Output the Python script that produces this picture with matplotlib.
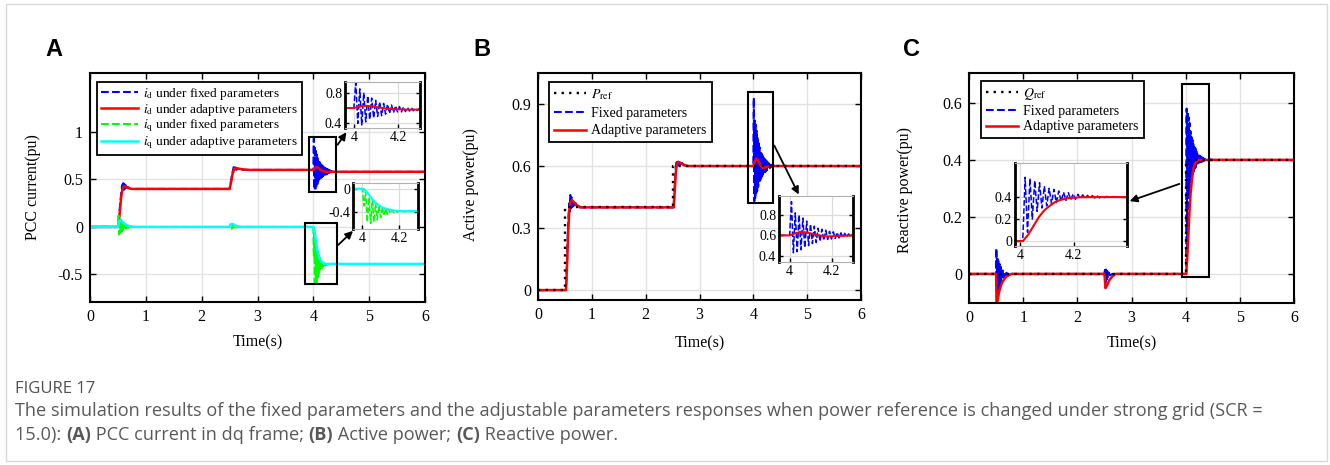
import numpy as np
import matplotlib.pyplot as plt
from matplotlib.patches import Rectangle

plt.rcParams['font.family'] = 'serif'
plt.rcParams['font.serif'] = ['Liberation Serif', 'DejaVu Serif']
plt.rcParams['mathtext.fontset'] = 'stix'
plt.rcParams['axes.unicode_minus'] = False

W, H = 1330, 465

# ---------------- data ----------------
# Panel A : PCC current in dq frame
t_id_adp = [0, 0.50, 0.52, 0.54, 0.56, 0.58, 0.61, 0.64, 0.68, 0.74, 0.82, 2.50, 2.52, 2.55, 2.58,
            2.62, 2.67, 2.75, 2.85, 4.00, 4.02, 4.05, 4.08, 4.11, 4.14, 4.18, 4.24, 4.32, 4.45, 6.00]
id_adp = [0.0, 0.0, 0.08, 0.20, 0.32, 0.40, 0.43, 0.425, 0.41, 0.40, 0.40, 0.40, 0.45, 0.55, 0.61,
          0.62, 0.612, 0.605, 0.60, 0.60, 0.615, 0.63, 0.625, 0.61, 0.595, 0.585, 0.58, 0.58, 0.58, 0.58]

t_id_fix = [0, 0.50, 0.52, 0.54, 0.56, 0.575, 0.585, 0.595, 0.605, 0.615, 0.625, 0.635, 0.645, 0.655,
            0.665, 0.68, 0.70, 0.74, 0.82, 2.50, 2.52, 2.55, 2.575, 2.59, 2.605, 2.62, 2.64, 2.67, 2.75,
            2.85, 4.000, 4.009, 4.018, 4.027, 4.036, 4.045, 4.054, 4.063, 4.072, 4.081, 4.090, 4.099,
            4.108, 4.117, 4.126, 4.135, 4.144, 4.153, 4.162, 4.171, 4.180, 4.189, 4.198, 4.207, 4.216,
            4.225, 4.234, 4.243, 4.252, 4.261, 4.270, 4.279, 4.288, 4.297, 4.306, 4.315, 4.324, 4.333,
            4.35, 4.40, 6.00]
id_fix = [0.0, 0.0, 0.10, 0.24, 0.36, 0.44, 0.38, 0.46, 0.39, 0.45, 0.40, 0.44, 0.405, 0.43,
          0.41, 0.42, 0.41, 0.40, 0.40, 0.40, 0.46, 0.57, 0.63, 0.59, 0.625, 0.60, 0.615, 0.605, 0.60,
          0.60, 0.60, 0.93, 0.40, 0.85, 0.38, 0.80, 0.42, 0.76, 0.45, 0.73, 0.47, 0.70,
          0.49, 0.68, 0.50, 0.66, 0.52, 0.65, 0.53, 0.64, 0.54, 0.63, 0.55, 0.62, 0.55,
          0.615, 0.555, 0.61, 0.56, 0.605, 0.565, 0.60, 0.57, 0.595, 0.57, 0.59, 0.575, 0.585,
          0.58, 0.58, 0.58]

t_iq_fix = [0, 0.50, 0.51, 0.52, 0.53, 0.54, 0.55, 0.56, 0.57, 0.58, 0.59, 0.60, 0.61, 0.62, 0.63,
            0.645, 0.66, 0.68, 0.70, 0.75, 2.50, 2.52, 2.54, 2.56, 2.58, 2.60, 2.63, 2.68,
            4.000, 4.009, 4.018, 4.027, 4.036, 4.045, 4.054, 4.063, 4.072, 4.081, 4.090, 4.099,
            4.108, 4.117, 4.126, 4.135, 4.144, 4.153, 4.162, 4.171, 4.180, 4.189, 4.198, 4.207,
            4.216, 4.225, 4.234, 4.243, 4.252, 4.261, 4.270, 4.30, 6.00]
iq_fix = [0.0, 0.0, 0.12, -0.08, 0.10, -0.06, 0.08, -0.05, 0.06, -0.04, 0.045, -0.03, 0.035, -0.02, 0.025,
          -0.015, 0.015, -0.01, 0.008, 0.0, 0.0, 0.03, -0.02, 0.02, -0.015, 0.01, -0.005, 0.0,
          0.0, -0.30, -0.05, -0.58, -0.15, -0.60, -0.20, -0.58, -0.25, -0.54, -0.29, -0.50,
          -0.32, -0.47, -0.34, -0.45, -0.36, -0.43, -0.37, -0.42, -0.38, -0.41, -0.385, -0.405,
          -0.39, -0.40, -0.39, -0.40, -0.39, -0.395, -0.39, -0.39, -0.39]

t_iq_adp = [0, 0.50, 0.52, 0.55, 0.60, 0.65, 0.72, 0.80, 2.50, 2.52, 2.56, 2.62, 2.70, 4.00, 4.01, 4.03,
            4.05, 4.07, 4.09, 4.11, 4.14, 4.17, 4.22, 4.30, 6.00]
iq_adp = [0.0, 0.0, 0.06, 0.07, 0.04, 0.02, 0.005, 0.0, 0.0, 0.025, 0.03, 0.01, 0.0, 0.0, -0.01, -0.08,
          -0.17, -0.24, -0.29, -0.33, -0.36, -0.38, -0.39, -0.39, -0.39]

# Panel B : active power
t_pref = [0, 0.5, 0.5, 2.5, 2.5, 6.0]
p_ref = [0.0, 0.0, 0.4, 0.4, 0.6, 0.6]

t_p_adp = [0, 0.52, 0.54, 0.56, 0.58, 0.60, 0.63, 0.67, 0.72, 0.80, 0.90, 2.52, 2.54, 2.56, 2.58, 2.61,
           2.65, 2.70, 2.78, 2.90, 4.00, 4.02, 4.05, 4.08, 4.11, 4.14, 4.18, 4.24, 4.32, 6.00]
p_adp = [0.0, 0.0, 0.12, 0.28, 0.38, 0.42, 0.435, 0.425, 0.41, 0.40, 0.40, 0.40, 0.48, 0.57, 0.61, 0.62,
         0.615, 0.605, 0.60, 0.60, 0.60, 0.615, 0.635, 0.63, 0.615, 0.60, 0.59, 0.595, 0.60, 0.60]

t_p_fix = [0, 0.52, 0.54, 0.56, 0.58, 0.59, 0.60, 0.61, 0.62, 0.63, 0.64, 0.65, 0.66, 0.68, 0.70, 0.75,
           0.90, 2.52, 2.54, 2.56, 2.58, 2.60, 2.62, 2.64, 2.67, 2.72, 2.80,
           4.000, 4.009, 4.018, 4.027, 4.036, 4.045, 4.054, 4.063, 4.072, 4.081, 4.090, 4.099,
           4.108, 4.117, 4.126, 4.135, 4.144, 4.153, 4.162, 4.171, 4.180, 4.189, 4.198, 4.207,
           4.216, 4.225, 4.234, 4.243, 4.252, 4.261, 4.270, 4.279, 4.288, 4.297, 4.306, 4.315,
           4.33, 4.35, 4.40, 6.00]
p_fix = [0.0, 0.0, 0.15, 0.32, 0.42, 0.38, 0.46, 0.39, 0.45, 0.40, 0.44, 0.405, 0.43, 0.41, 0.42, 0.40,
         0.40, 0.40, 0.50, 0.60, 0.63, 0.605, 0.625, 0.61, 0.615, 0.605, 0.60,
         0.60, 0.93, 0.43, 0.82, 0.44, 0.80, 0.46, 0.77, 0.48, 0.74, 0.50, 0.71,
         0.52, 0.69, 0.53, 0.67, 0.54, 0.66, 0.55, 0.65, 0.56, 0.64, 0.565, 0.635,
         0.57, 0.63, 0.575, 0.625, 0.58, 0.62, 0.585, 0.615, 0.59, 0.61, 0.59, 0.61,
         0.595, 0.605, 0.60, 0.60]

# Panel C : reactive power
t_qref = [0, 4.0, 4.0, 6.0]
q_ref = [0.0, 0.0, 0.4, 0.4]

t_q_adp = [0, 0.50, 0.51, 0.53, 0.56, 0.60, 0.65, 0.70, 0.78, 2.50, 2.52, 2.55, 2.59, 2.64, 2.70,
           4.00, 4.01, 4.03, 4.05, 4.07, 4.09, 4.11, 4.13, 4.15, 4.18, 4.22, 4.30, 6.00]
q_adp = [0.0, 0.0, -0.12, -0.09, -0.06, -0.035, -0.018, -0.008, 0.0, 0.0, -0.05, -0.04, -0.022, -0.01, 0.0,
         0.0, 0.0, 0.06, 0.14, 0.22, 0.28, 0.32, 0.355, 0.375, 0.39, 0.398, 0.40, 0.40]

t_q_fix = [0, 0.500, 0.505, 0.515, 0.525, 0.535, 0.545, 0.555, 0.565, 0.575, 0.585, 0.595, 0.605, 0.615,
           0.625, 0.64, 0.655, 0.67, 0.69, 0.72, 0.78, 2.50, 2.51, 2.52, 2.53, 2.54, 2.55, 2.56, 2.58,
           2.60, 2.65, 4.000, 4.009, 4.018, 4.027, 4.036, 4.045, 4.054, 4.063, 4.072, 4.081, 4.090,
           4.099, 4.108, 4.117, 4.126, 4.135, 4.144, 4.153, 4.162, 4.171, 4.180, 4.189, 4.198, 4.207,
           4.216, 4.225, 4.234, 4.243, 4.252, 4.261, 4.270, 4.279, 4.288, 4.297, 4.306, 4.315, 4.324,
           4.333, 4.35, 4.38, 4.42, 4.50, 6.00]
q_fix = [0.0, 0.0, 0.09, -0.12, 0.06, -0.08, 0.045, -0.055, 0.035, -0.04, 0.025, -0.03, 0.018, -0.02,
         0.012, -0.012, 0.008, -0.006, 0.004, -0.002, 0.0, 0.0, 0.02, -0.03, 0.015, -0.02, 0.01, -0.012, 0.005,
         -0.005, 0.0, 0.0, 0.0, 0.58, 0.08, 0.57, 0.20, 0.55, 0.27, 0.53, 0.30, 0.50,
         0.32, 0.48, 0.34, 0.47, 0.35, 0.455, 0.36, 0.445, 0.37, 0.44, 0.375, 0.43, 0.38,
         0.425, 0.385, 0.42, 0.39, 0.415, 0.39, 0.413, 0.392, 0.41, 0.393, 0.408, 0.395, 0.406,
         0.396, 0.404, 0.397, 0.402, 0.40, 0.40]

xt_main = [0, 1, 2, 3, 4, 5, 6]

# ---------------- helpers ----------------
def fbox(l, t, r, b):
    return [l / W, 1 - b / H, (r - l) / W, (b - t) / H]


def style_main(ax, ylim, yt, ylab):
    ax.set_xlim(0, 6)
    ax.set_ylim(*ylim)
    ax.set_xticks(xt_main)
    ax.set_yticks(yt)
    ax.set_yticklabels(ylab)
    ax.grid(True, color='#e2e2e2', lw=1)
    ax.set_axisbelow(True)
    ax.tick_params(direction='in', top=True, right=True, length=4, width=1, labelsize=11.5, pad=5)
    for s in ax.spines.values():
        s.set_linewidth(1.5)


def style_inset(ax, xlim, ylim, yt, ylab):
    ax.set_xlim(*xlim)
    ax.set_ylim(*ylim)
    ax.set_xticks([4, 4.2])
    ax.set_xticklabels(['4', '4.2'])
    ax.set_yticks(yt)
    ax.set_yticklabels(ylab)
    ax.grid(True, color='#dcdcdc', lw=0.9)
    ax.set_axisbelow(True)
    ax.tick_params(direction='in', right=True, length=3, width=1, labelsize=10, pad=2)
    ax.spines['left'].set_linewidth(2)
    ax.spines['right'].set_linewidth(2)
    ax.spines['top'].set_color('#b0b0b0')
    ax.spines['bottom'].set_color('#b0b0b0')


def legend(ax, x, y, fs, sp, bp=0.35, hl=2.3):
    leg = ax.legend(loc='upper left', bbox_to_anchor=(x, y), borderaxespad=0, fancybox=False,
                    edgecolor='k', framealpha=1, fontsize=fs, handlelength=hl, labelspacing=sp,
                    borderpad=bp, handletextpad=0.4)
    leg.get_frame().set_linewidth(1.3)


def arrow(ax, p0, p1):
    ax.annotate('', xy=(p1[0] / W, 1 - p1[1] / H), xytext=(p0[0] / W, 1 - p0[1] / H),
                xycoords='figure fraction', textcoords='figure fraction', annotation_clip=False,
                arrowprops=dict(arrowstyle='-|>', color='k', lw=1.3, mutation_scale=11), zorder=20)


def zbox(ax, x0, x1, y0, y1):
    ax.add_patch(Rectangle((x0, y0), x1 - x0, y1 - y0, fill=False, ec='k', lw=1.5, zorder=15))


fig = plt.figure(figsize=(W / 100, H / 100), dpi=100)
fig.patches.append(Rectangle((6 / W, 1 - 461 / H), 1321 / W, 457 / H, transform=fig.transFigure,
                             fill=False, ec='#d8d8d8', lw=1))

ls_dot = (0, (1, 2.2))

# ---------------- Panel A ----------------
axA = fig.add_axes(fbox(90, 73, 425, 302))
axA.plot(t_id_fix, id_fix, color='#0000ff', ls='--', lw=1.5, label=r'$i_{\mathrm{d}}$ under fixed parameters')
axA.plot(t_id_adp, id_adp, color='#ff0000', lw=1.8, label=r'$i_{\mathrm{d}}$ under adaptive parameters')
axA.plot(t_iq_fix, iq_fix, color='#00ff00', ls='--', lw=1.5, label=r'$i_{\mathrm{q}}$ under fixed parameters')
axA.plot(t_iq_adp, iq_adp, color='#00ffff', lw=1.8, label=r'$i_{\mathrm{q}}$ under adaptive parameters')
style_main(axA, (-0.79, 1.62), [-0.5, 0, 0.5, 1], ['-0.5', '0', '0.5', '1'])
axA.set_xlabel('Time(s)', fontsize=11.5)
axA.set_ylabel('PCC current(pu)', fontsize=11.5)
axA.xaxis.set_label_coords(0.5, -0.14)
axA.yaxis.set_label_coords(-0.147, 0.5)
legend(axA, 0.021, 0.961, 9.6, 0.0, 0.28, 2.8)
zbox(axA, 3.92, 4.41, 0.37, 0.95)
zbox(axA, 3.85, 4.42, -0.60, 0.04)
arrow(axA, (336, 147), (348, 130))
arrow(axA, (336, 247), (355, 229))

axA1 = fig.add_axes(fbox(345, 82, 420, 128))
axA1.plot(t_id_fix, id_fix, color='#0000ff', ls='--', lw=1.1)
axA1.plot(t_id_adp, id_adp, color='#ff0000', lw=1.4)
style_inset(axA1, (3.96, 4.30), (0.34, 0.94), [0.4, 0.8], ['0.4', '0.8'])

axA2 = fig.add_axes(fbox(353, 183, 418, 229))
axA2.plot(t_iq_fix, iq_fix, color='#00ff00', ls='--', lw=1.1)
axA2.plot(t_iq_adp, iq_adp, color='#00ffff', lw=1.6)
style_inset(axA2, (3.95, 4.30), (-0.70, 0.10), [-0.4, 0], ['-0.4', '0'])

# ---------------- Panel B ----------------
axB = fig.add_axes(fbox(538, 73, 861, 300))
axB.plot(t_pref, p_ref, color='k', ls=ls_dot, lw=1.7, label=r'$P_{\mathrm{ref}}$', zorder=5)
axB.plot(t_p_fix, p_fix, color='#0000ff', ls='--', lw=1.5, label='Fixed parameters')
axB.plot(t_p_adp, p_adp, color='#ff0000', lw=1.8, label='Adaptive parameters')
style_main(axB, (-0.048, 1.05), [0, 0.3, 0.6, 0.9], ['0', '0.3', '0.6', '0.9'])
axB.set_xlabel('Time(s)', fontsize=11.5)
axB.set_ylabel('Active power(pu)', fontsize=11.5)
axB.xaxis.set_label_coords(0.5, -0.154)
axB.yaxis.set_label_coords(-0.183, 0.507)
legend(axB, 0.034, 0.960, 10, 0.35)
zbox(axB, 3.90, 4.37, 0.42, 0.96)
arrow(axB, (773, 143), (800, 197))

axB1 = fig.add_axes(fbox(779, 196, 853, 262))
axB1.plot(t_p_fix, p_fix, color='#0000ff', ls='--', lw=1.1)
axB1.plot(t_p_adp, p_adp, color='#ff0000', lw=1.4)
style_inset(axB1, (3.95, 4.30), (0.34, 0.985), [0.4, 0.6, 0.8], ['0.4', '0.6', '0.8'])

# ---------------- Panel C ----------------
axC = fig.add_axes(fbox(969, 73, 1294, 303))
axC.plot(t_qref, q_ref, color='k', ls=ls_dot, lw=1.7, label=r'$Q_{\mathrm{ref}}$', zorder=5)
axC.plot(t_q_fix, q_fix, color='#0000ff', ls='--', lw=1.5, label='Fixed parameters')
axC.plot(t_q_adp, q_adp, color='#ff0000', lw=1.8, label='Adaptive parameters')
style_main(axC, (-0.102, 0.705), [0, 0.2, 0.4, 0.6], ['0', '0.2', '0.4', '0.6'])
axC.set_xlabel('Time(s)', fontsize=11.5)
axC.set_ylabel('Reactive power(pu)', fontsize=11.5)
axC.xaxis.set_label_coords(0.5, -0.139)
axC.yaxis.set_label_coords(-0.172, 0.49)
legend(axC, 0.037, 0.965, 10, 0.2)
zbox(axC, 3.93, 4.43, -0.01, 0.667)
arrow(axC, (1182, 183), (1127, 202))

axC1 = fig.add_axes(fbox(1015, 163, 1127, 246))
axC1.plot(t_q_fix, q_fix, color='#0000ff', ls='--', lw=1.1)
axC1.plot(t_q_adp, q_adp, color='#ff0000', lw=1.5)
style_inset(axC1, (3.98, 4.40), (-0.045, 0.71), [0, 0.2, 0.4], ['0', '0.2', '0.4'])

# ---------------- panel letters ----------------
for lab, x in [('A', 45), ('B', 473), ('C', 903)]:
    fig.text(x / W, 1 - 49 / H, lab, family='Liberation Sans', fontweight='bold', fontsize=17, va='center')

# ---------------- caption ----------------
cap = '#595959'
fig.text(15 / W, 1 - 389 / H, 'FIGURE 17', family='Open Sans', fontsize=12, color='#505050', va='center')
fig.text(15 / W, 1 - 411 / H, 'The simulation results of the fixed parameters and the adjustable parameters '
         'responses when power reference is changed under strong grid (SCR =', family='Open Sans',
         fontsize=13.1, color=cap, va='center')

runs = [('15.0): ', 'normal'), ('(A)', 'bold'), (' PCC current in dq frame; ', 'normal'),
        ('(B)', 'bold'), (' Active power; ', 'normal'), ('(C)', 'bold'), (' Reactive power.', 'normal')]
rend = fig.canvas.get_renderer()
x = 15
for s, w in runs:
    t = fig.text(x / W, 1 - 435 / H, s, family='Open Sans', fontsize=13.1, color=cap, fontweight=w, va='center')
    x += t.get_window_extent(rend).width

fig.savefig('out.png', dpi=100)
